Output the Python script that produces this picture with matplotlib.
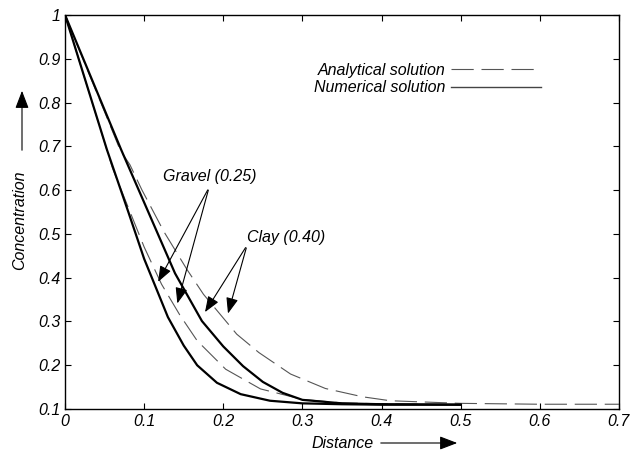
import matplotlib.pyplot as plt

# values
gravel_num_x = [0, 0.053, 0.08, 0.1, 0.114, 0.13, 0.15, 0.167, 0.192, 0.222, 0.259, 0.3, 0.35, 0.4, 0.45, 0.5]
gravel_num_y = [1, 0.692, 0.55, 0.443, 0.381, 0.31, 0.245, 0.2, 0.16, 0.134, 0.119, 0.113, 0.111, 0.110, 0.110, 0.110]

gravel_ana_x = [0, 0.06, 0.08, 0.1, 0.122, 0.145, 0.167, 0.203, 0.247, 0.3, 0.35, 0.4, 0.5]
gravel_ana_y = [1, 0.65, 0.56, 0.47, 0.385, 0.315, 0.256, 0.191, 0.146, 0.122, 0.114, 0.112, 0.110]

clay_num_x = [0, 0.071, 0.139, 0.173, 0.2, 0.225, 0.25, 0.275, 0.3, 0.35, 0.4, 0.5]
clay_num_y = [1, 0.692, 0.41, 0.301, 0.243, 0.198, 0.162, 0.137, 0.121, 0.113, 0.111, 0.110]

clay_ana_x = [0, 0.07, 0.082, 0.097, 0.125, 0.154, 0.175, 0.217, 0.245, 0.285, 0.329, 0.376, 0.411, 0.5, 0.6, 0.7]
clay_ana_y = [1, 0.69, 0.658, 0.601, 0.505, 0.419, 0.362, 0.271, 0.229, 0.18, 0.147, 0.128, 0.119, 0.113, 0.111, 0.111]

x_ticks = [0, 0.1, 0.2, 0.3, 0.4, 0.5, 0.6, 0.7]
y_ticks = [0.1, 0.2, 0.3, 0.4, 0.5, 0.6, 0.7, 0.8, 0.9, 1]

plt.rcParams['font.family'] = ['Liberation Sans', 'DejaVu Sans']
plt.rcParams['font.style'] = 'italic'
fs = 11.5

fig = plt.figure(figsize=(6.44, 4.54), dpi=100)
ax = fig.add_axes([0.101, 0.099, 0.860, 0.868])

dash_kw = dict(color='#555555', lw=0.8, dashes=(20, 7))
ax.plot(clay_ana_x, clay_ana_y, label='Analytical solution', **dash_kw)
ax.plot(gravel_ana_x, gravel_ana_y, **dash_kw)
ax.plot(gravel_num_x, gravel_num_y, color='black', lw=1.6, label='Numerical solution')
ax.plot(clay_num_x, clay_num_y, color='black', lw=1.6)

ax.set_xlim(0, 0.7)
ax.set_ylim(0.1, 1)
ax.set_xticks(x_ticks)
ax.set_xticklabels([f'{t:g}' for t in x_ticks])
ax.set_yticks(y_ticks)
ax.set_yticklabels([f'{t:g}' for t in y_ticks])
ax.tick_params(direction='in', top=True, right=True, length=4, width=0.8, labelsize=fs)
for s in ax.spines.values():
    s.set_linewidth(1.0)

leg = ax.legend(loc='upper left', bbox_to_anchor=(0.449, 0.878), frameon=False,
                markerfirst=False, handlelength=5.6, borderpad=0, borderaxespad=0,
                labelspacing=0.15, handletextpad=0.4, fontsize=fs)
leg.legend_handles[1].set_linewidth(1.0)
leg.legend_handles[1].set_color('#444444')

head = '-|>,head_length=0.6,head_width=0.23'
arrow_kw = dict(arrowstyle=head, color='black', lw=0.8, mutation_scale=16)
ax.text(0.1835, 0.631, 'Gravel (0.25)', ha='center', va='center', fontsize=fs)
ax.annotate('', xy=(0.116, 0.385), xytext=(0.182, 0.606), arrowprops=arrow_kw)
ax.annotate('', xy=(0.141, 0.335), xytext=(0.182, 0.606), arrowprops=arrow_kw)
ax.text(0.279, 0.492, 'Clay (0.40)', ha='center', va='center', fontsize=fs)
ax.annotate('', xy=(0.175, 0.316), xytext=(0.230, 0.474), arrowprops=arrow_kw)
ax.annotate('', xy=(0.205, 0.312), xytext=(0.230, 0.474), arrowprops=arrow_kw)

# axis labels with the long arrows beside them
fig.text(374 / 644, 1 - 443 / 454, 'Distance', ha='right', va='center', fontsize=fs)
ax.annotate('', xy=(460 / 644, 1 - 443 / 454), xytext=(378 / 644, 1 - 443 / 454),
            xycoords='figure fraction', textcoords='figure fraction',
            arrowprops=dict(arrowstyle=head, color='black', lw=0.8, mutation_scale=18),
            annotation_clip=False)
fig.text(20 / 644, 1 - 270 / 454, 'Concentration', ha='center', va='bottom',
         rotation=90, fontsize=fs)
ax.annotate('', xy=(22 / 644, 1 - 88 / 454), xytext=(22 / 644, 1 - 153 / 454),
            xycoords='figure fraction', textcoords='figure fraction',
            arrowprops=dict(arrowstyle=head, color='black', lw=0.8, mutation_scale=18),
            annotation_clip=False)

fig.savefig('out.png', dpi=100)
